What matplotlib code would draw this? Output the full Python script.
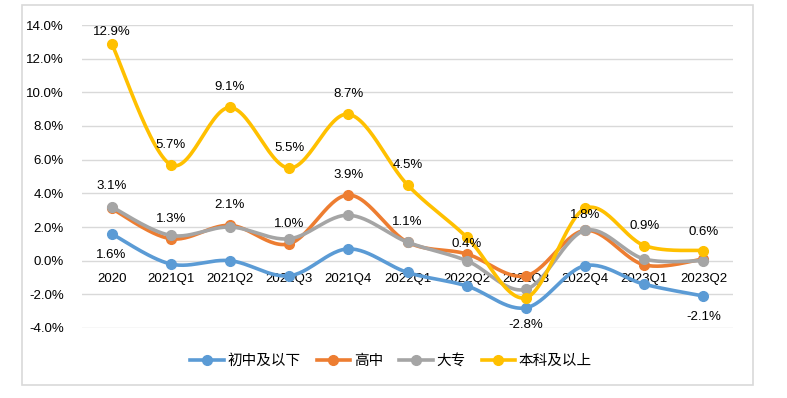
import matplotlib
matplotlib.use("Agg")
import matplotlib.pyplot as plt
from matplotlib.patches import Rectangle
from matplotlib.ticker import FuncFormatter
import numpy as np

plt.rcParams['font.family'] = ['Liberation Sans', 'Noto Sans CJK SC', 'DejaVu Sans']

periods = ["2020", "2021Q1", "2021Q2", "2021Q3", "2021Q4", "2022Q1",
           "2022Q2", "2022Q3", "2022Q4", "2023Q1", "2023Q2"]
names = ["初中及以下", "高中", "大专", "本科及以上"]
junior = [1.6, -0.2, 0.0, -0.9, 0.7, -0.7, -1.5, -2.8, -0.3, -1.4, -2.1]
senior = [3.1, 1.3, 2.1, 1.0, 3.9, 1.1, 0.4, -0.9, 1.8, -0.25, 0.1]
college = [3.2, 1.5, 2.0, 1.3, 2.7, 1.1, 0.0, -1.7, 1.8, 0.1, 0.0]
bachelor = [12.9, 5.7, 9.1, 5.5, 8.7, 4.5, 1.4, -2.2, 3.1, 0.9, 0.6]
colors = ["#5B9BD5", "#ED7D31", "#A5A5A5", "#FFC000"]

# data labels: (series index, point index, offset in px, negative = below)
labels = [(3, 0, 12), (3, 1, 20), (3, 2, 20), (3, 3, 20), (3, 4, 20), (3, 5, 20),
          (3, 9, 20), (3, 10, 19),
          (1, 0, 22), (1, 1, 20), (1, 2, 20), (1, 3, 20), (1, 4, 20), (1, 5, 20),
          (1, 6, 10), (2, 8, 15),
          (0, 0, -21), (0, 7, -17), (0, 10, -21)]


def smooth(y, n=30):
    # excel style bezier smoothing
    y = np.asarray(y, float)
    x = np.arange(len(y), dtype=float)
    px, py = [], []
    t = np.linspace(0, 1, n)
    for i in range(len(y) - 1):
        x0, y0 = x[i], y[i]
        x3, y3 = x[i + 1], y[i + 1]
        xp, yp = (x[i - 1], y[i - 1]) if i > 0 else (x0, y0)
        xn, yn = (x[i + 2], y[i + 2]) if i + 2 < len(y) else (x3, y3)
        x1, y1 = x0 + (x3 - xp) / 6, y0 + (y3 - yp) / 6
        x2, y2 = x3 - (xn - x0) / 6, y3 - (yn - y0) / 6
        b = [(1 - t) ** 3, 3 * (1 - t) ** 2 * t, 3 * (1 - t) * t ** 2, t ** 3]
        px.extend(b[0] * x0 + b[1] * x1 + b[2] * x2 + b[3] * x3)
        py.extend(b[0] * y0 + b[1] * y1 + b[2] * y2 + b[3] * y3)
    return np.array(px), np.array(py)


fig = plt.figure(figsize=(7.87, 3.98), dpi=100)
fig.patches.append(Rectangle((22 / 787, 1 - 385 / 398), 731 / 787, 380 / 398,
                             transform=fig.transFigure, fill=False,
                             edgecolor="#d9d9d9", linewidth=1.2))
ax = fig.add_axes([82 / 787, 1 - 328 / 398, 651 / 787, 303 / 398])

series = [junior, senior, college, bachelor]
for s, name, c in zip(series, names, colors):
    sx, sy = smooth(s)
    ax.plot(sx, sy, color=c, lw=2.6, solid_capstyle='round', zorder=3)
    ax.plot(range(len(s)), s, 'o', color=c, ms=7, zorder=3)
    ax.plot([], [], '-o', color=c, lw=2.6, ms=7, label=name)

for si, pi, off in labels:
    v = series[si][pi]
    ax.annotate(f"{v:.1f}%", (pi, v), xytext=(0, off * 0.72), textcoords='offset points',
                ha='center', va='center', fontsize=9.5, zorder=5)

ax.set_xlim(-0.5, len(periods) - 0.5)
ax.set_ylim(-4, 14)
ax.set_yticks(np.arange(-4, 15, 2))
ax.yaxis.set_major_formatter(FuncFormatter(lambda v, p: f"{v:.1f}%"))
ax.set_xticks(range(len(periods)))
ax.set_xticklabels(periods)
ax.grid(axis='y', color="#d9d9d9", lw=1)
ax.set_axisbelow(True)
for sp in ax.spines.values():
    sp.set_visible(False)
ax.spines['bottom'].set_position(('data', 0))
ax.tick_params(axis='x', length=0, pad=9, labelsize=9.5)
ax.tick_params(axis='y', length=0, pad=13, labelsize=9.5)

fig.legend(loc='center', bbox_to_anchor=(391 / 787, 1 - 361 / 398), ncol=4,
           frameon=False, fontsize=10.5, handlelength=2.3, columnspacing=1.1,
           handletextpad=0.25)

fig.savefig("out.png", dpi=100)
